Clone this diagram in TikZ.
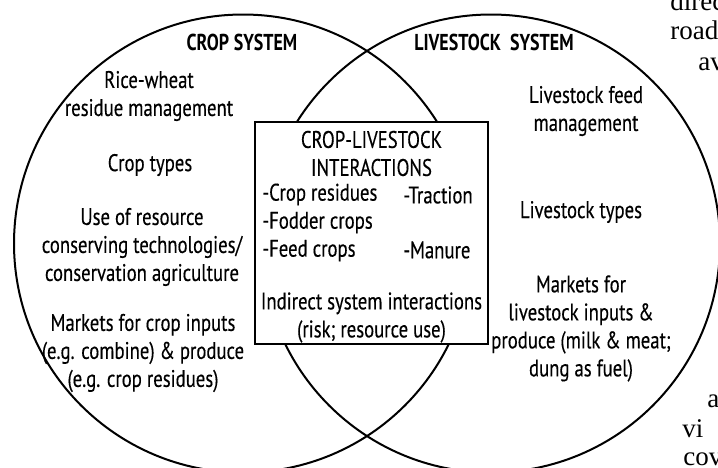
\documentclass[tikz,border=0pt]{standalone}
\usepackage{fontspec}
\setmainfont{PT Sans}[FakeStretch=0.78, UprightFeatures={FakeBold=0.3}]
\newfontfamily\pagefont{Liberation Serif}
\usetikzlibrary{positioning}

\tikzset{
  system/.style={circle, draw, line width=1pt, minimum size=229pt, inner sep=0pt},
  item/.style={align=center, inner sep=0pt, font=\fontsize{12}{14}\selectfont},
  heading/.style={item, font=\fontsize{11.5}{14}\selectfont\bfseries},
  listitem/.style={item, align=left, anchor=west},
  pagetext/.style={inner sep=0pt, anchor=base west, font=\pagefont\fontsize{13.5}{15}\selectfont}
}

\begin{document}
\begin{tikzpicture}[x=0.5pt, y=-0.5pt]
  \useasboundingbox (0,0) rectangle (718,467);

  \node[system] (crop) at (243,243.5) {};
  \node[system] (stock) at (491,243.5) {};
  \node[draw, fill=white, line width=0.8pt, minimum width=116.5pt, minimum height=111pt] (inter) at (371.5,233) {};

  \node[heading] (croptitle) at (242,42) {CROP SYSTEM};
  \node[item] (rice) at (149,96) {Rice-wheat\\residue management};
  \node[item] (croptypes) at (150,165) {Crop types};
  \node[item] (rct) at (142,247) {Use of resource\\conserving technologies/\\conservation agriculture};
  \node[item] (cropmkt) at (143,353) {Markets for crop inputs\\(e.g. combine) \& produce\\(e.g. crop residues)};

  \node[heading] (stocktitle) at (494,42) {LIVESTOCK\ \ SYSTEM};
  \node[item] (feed) at (586,111) {Livestock feed\\management};
  \node[item] (stocktypes) at (581,212) {Livestock types};
  \node[item] (stockmkt) at (581,328.5) {Markets for\\livestock inputs \&\\produce (milk \& meat;\\dung as fuel)};

  \node[item] (intertitle) at (371.5,153.5) {CROP-LIVESTOCK\\INTERACTIONS};
  \node[listitem] (crops) at (262,222.5) {-Crop residues\\-Fodder crops\\-Feed crops};
  \node[listitem] (traction) at (403,195) {-Traction};
  \node[listitem] (manure) at (403,250) {-Manure};
  \node[item] (indirect) at (371.5,317.5) {Indirect system interactions\\(risk; resource use)};

  \node[pagetext] (p1) at (670,10) {direc};
  \node[pagetext] (p2) at (670,39) {road};
  \node[pagetext] (p3) at (698,70) {av};
  \node[pagetext] (p4) at (707,407) {a};
  \node[pagetext] (p5) at (682,437) {vi};
  \node[pagetext] (p6) at (683,465) {cov};
\end{tikzpicture}
\end{document}
